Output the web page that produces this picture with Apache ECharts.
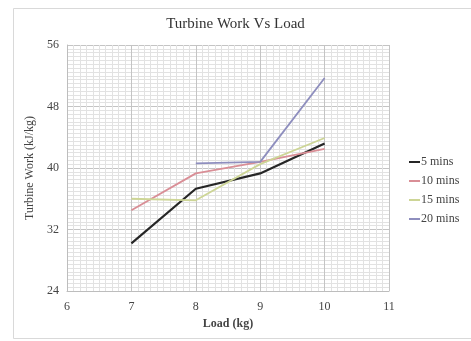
<!DOCTYPE html>
<html>
<head>
<meta charset="utf-8">
<script src="https://cdn.jsdelivr.net/npm/echarts@6/dist/echarts.min.js"></script>
<style>
  html, body { margin: 0; padding: 0; background: #fff; }
  #chart { width: 471px; height: 341px; }
</style>
</head>
<body>
<div id="chart"></div>
<script>
// Load (kg) against turbine work (kJ/kg) for four run durations
const loads = [7, 8, 9, 10];
const work5 = [30.2, 37.3, 39.3, 43.2];
const work10 = [34.5, 39.3, 40.8, 42.5];
const work15 = [36.0, 35.8, 40.5, 43.9];
const work20 = [null, 40.6, 40.8, 51.7];
const seriesNames = ['5 mins', '10 mins', '15 mins', '20 mins'];
const seriesColors = ['#262626', '#d98e96', '#cdd596', '#8e8ebe'];

const serif = '"Liberation Serif", "DejaVu Serif", serif';
const allWork = [work5, work10, work15, work20];

const chart = echarts.init(document.getElementById('chart'));
chart.setOption({
  animation: false,
  backgroundColor: '#fff',
  graphic: [{
    type: 'rect',
    shape: { x: 13.5, y: 8.5, width: 470, height: 330 },
    style: { fill: 'none', stroke: '#d9d9d9', lineWidth: 1 },
    silent: true
  }],
  title: {
    text: 'Turbine Work Vs Load',
    left: 'center',
    top: 12,
    textStyle: { fontFamily: serif, fontSize: 15, fontWeight: 'normal', color: '#333' }
  },
  legend: {
    orient: 'vertical',
    left: 404,
    top: 151,
    itemGap: 7,
    itemWidth: 11,
    itemHeight: 2,
    icon: 'rect',
    data: seriesNames,
    textStyle: { fontFamily: serif, fontSize: 12, color: '#444', padding: [0, 0, 0, -4] }
  },
  grid: { left: 67, right: 82, top: 45, bottom: 50 },
  xAxis: {
    type: 'value',
    min: 6, max: 11, interval: 1,
    name: 'Load (kg)',
    nameLocation: 'middle',
    nameGap: 25,
    nameTextStyle: { fontFamily: serif, fontSize: 12, fontWeight: 'bold', color: '#444' },
    axisLine: { show: true, lineStyle: { color: '#bdbdbd' } },
    axisTick: { show: false },
    axisLabel: { fontFamily: serif, fontSize: 12, color: '#444', margin: 10 },
    splitLine: { show: true, lineStyle: { color: '#c4c4c4', width: 1 } },
    minorTick: { show: false, splitNumber: 10 },
    minorSplitLine: { show: true, lineStyle: { color: '#e2e2e2', width: 1 } }
  },
  yAxis: {
    type: 'value',
    min: 24, max: 56, interval: 8,
    name: 'Turbine Work (kJ/kg)',
    nameLocation: 'middle',
    nameGap: 23,
    nameTextStyle: { fontFamily: serif, fontSize: 12, color: '#444' },
    axisLine: { show: true, lineStyle: { color: '#bdbdbd' } },
    axisTick: { show: false },
    axisLabel: { fontFamily: serif, fontSize: 12, color: '#444', margin: 8 },
    splitLine: { show: true, lineStyle: { color: '#c4c4c4', width: 1 } },
    minorTick: { show: false, splitNumber: 16 },
    minorSplitLine: { show: true, lineStyle: { color: '#e2e2e2', width: 1 } }
  },
  series: seriesNames.map((name, i) => ({
    name: name,
    type: 'line',
    data: loads.map((x, k) => [x, allWork[i][k]]),
    connectNulls: false,
    showSymbol: false,
    symbol: 'none',
    color: seriesColors[i],
    lineStyle: { width: i === 0 ? 2.2 : 1.8, color: seriesColors[i] }
  }))
});
</script>
</body>
</html>
